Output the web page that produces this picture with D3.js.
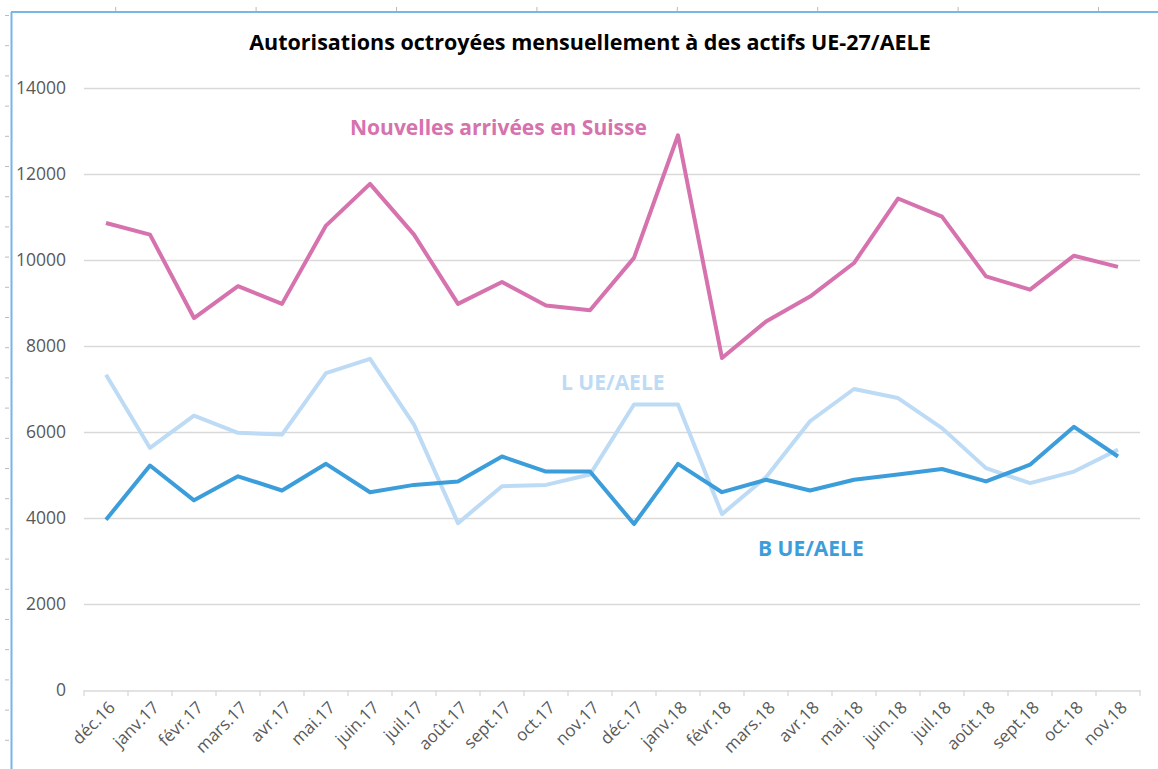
<!DOCTYPE html>
<meta charset="utf-8">
<title>Autorisations octroyées mensuellement</title>
<script src="https://d3js.org/d3.v7.min.js"></script>
<style>
body { margin: 0; background: #fff; }
text { font-family: "Open Sans", "Noto Sans", sans-serif; }
.grid line { stroke: #d9d9d9; stroke-width: 1.3px; }
.yaxis text { fill: #595959; font-size: 17.5px; }
.xaxis text { fill: #595959; font-size: 17px; }
</style>
<body>
<div id="chart"></div>
<script>
// months on the category axis
var months = ["déc.16", "janv.17", "févr.17", "mars.17", "avr.17", "mai.17", "juin.17", "juil.17",
  "août.17", "sept.17", "oct.17", "nov.17", "déc.17", "janv.18", "févr.18", "mars.18",
  "avr.18", "mai.18", "juin.18", "juil.18", "août.18", "sept.18", "oct.18", "nov.18"];

var nouvelles = [10860, 10590, 8650, 9390, 8980, 10800, 11770, 10590,
  8980, 9490, 8940, 8830, 10050, 12900, 7720, 8570,
  9150, 9930, 11430, 11010, 9620, 9310, 10100, 9840];

var lUE = [7330, 5630, 6380, 5980, 5940, 7370, 7700, 6170,
  3880, 4740, 4770, 5010, 6640, 6640, 4090, 4950,
  6250, 7000, 6790, 6090, 5160, 4810, 5080, 5590];

var bUE = [3960, 5220, 4410, 4970, 4640, 5260, 4600, 4770,
  4850, 5430, 5080, 5080, 3860, 5260, 4600, 4890,
  4640, 4890, 5010, 5140, 4850, 5240, 6120, 5430];

var yTicks = [0, 2000, 4000, 6000, 8000, 10000, 12000, 14000];

var width = 1158, height = 769;
var margin = {top: 88, right: 18, bottom: 79, left: 84};

var svg = d3.select("#chart").append("svg")
  .attr("width", width)
  .attr("height", height);

// window frame (blue border + ruler ticks)
svg.append("line").attr("x1", 11.5).attr("x2", 11.5).attr("y1", 12).attr("y2", height)
  .attr("stroke", "#78b6e4").attr("stroke-width", 2);
svg.append("line").attr("x1", 11).attr("x2", width).attr("y1", 12).attr("y2", 12)
  .attr("stroke", "#78b6e4").attr("stroke-width", 2);
for (var yy = 15.5; yy < height; yy += 30.2) {
  svg.append("line").attr("x1", 5).attr("x2", 9).attr("y1", yy).attr("y2", yy)
    .attr("stroke", "#bbb");
}
for (var xx = 115.7; xx < width; xx += 140.4) {
  svg.append("line").attr("x1", xx).attr("x2", xx).attr("y1", 7).attr("y2", 11)
    .attr("stroke", "#bbb");
}

var x = d3.scaleBand()
  .domain(months)
  .range([margin.left, width - margin.right]);

var y = d3.scaleLinear()
  .domain([0, 14000])
  .range([height - margin.bottom, margin.top]);

// gridlines
svg.append("g")
  .attr("class", "grid")
  .selectAll("line")
  .data(yTicks.slice(1))
  .enter()
  .append("line")
    .attr("x1", margin.left)
    .attr("x2", width - margin.right)
    .attr("y1", function(d) { return Math.round(y(d)) + 0.5; })
    .attr("y2", function(d) { return Math.round(y(d)) + 0.5; });

// y axis labels
var yAxis = svg.append("g")
  .attr("class", "yaxis")
  .attr("transform", "translate(" + margin.left + ",0)")
  .call(d3.axisLeft(y).tickValues(yTicks).tickFormat(d3.format("d")).tickSize(0).tickPadding(18));
yAxis.select(".domain").remove();

// x axis
var xAxis = svg.append("g")
  .attr("class", "xaxis")
  .attr("transform", "translate(0," + (Math.round(y(0)) + 0.5) + ")")
  .call(d3.axisBottom(x).tickSize(0));
xAxis.select(".domain").attr("stroke", "#d9d9d9").attr("stroke-width", 1.3);
xAxis.selectAll(".tick line").remove();
xAxis.selectAll(".tick text")
  .attr("text-anchor", "end")
  .attr("dy", 0)
  .attr("transform", "translate(8,16) rotate(-45)");
// tick marks at category boundaries
svg.append("g")
  .selectAll("line")
  .data(months.concat(["end"]))
  .enter()
  .append("line")
    .attr("x1", function(d, i) { return margin.left + i * x.step(); })
    .attr("x2", function(d, i) { return margin.left + i * x.step(); })
    .attr("y1", y(0))
    .attr("y2", y(0) + 6)
    .attr("stroke", "#d9d9d9")
    .attr("stroke-width", 1.3);

// lines
var line = d3.line()
  .x(function(d, i) { return x(months[i]) + x.bandwidth() / 2; })
  .y(function(d) { return y(d); });

var series = [
  {values: lUE, color: "#bddbf5"},
  {values: bUE, color: "#3c9ddb"},
  {values: nouvelles, color: "#d672ad"}
];

svg.append("g")
  .selectAll("path")
  .data(series)
  .enter()
  .append("path")
    .attr("d", function(d) { return line(d.values); })
    .attr("fill", "none")
    .attr("stroke", function(d) { return d.color; })
    .attr("stroke-width", 4)
    .attr("stroke-linejoin", "round");

// title
svg.append("text")
  .attr("x", 590)
  .attr("y", 50)
  .attr("text-anchor", "middle")
  .style("font-size", "21.5px")
  .style("font-weight", "bold")
  .attr("fill", "#000")
  .text("Autorisations octroyées mensuellement à des actifs UE-27/AELE");

// series labels
svg.append("text").attr("x", 350).attr("y", 135)
  .style("font-size", "21px").style("font-weight", "bold").attr("fill", "#d672ad")
  .text("Nouvelles arrivées en Suisse");
svg.append("text").attr("x", 561).attr("y", 390)
  .style("font-size", "21px").style("font-weight", "bold").attr("fill", "#bddbf5")
  .text("L UE/AELE");
svg.append("text").attr("x", 758).attr("y", 556)
  .style("font-size", "21px").style("font-weight", "bold").attr("fill", "#3c9ddb")
  .text("B UE/AELE");
</script>
</body>
